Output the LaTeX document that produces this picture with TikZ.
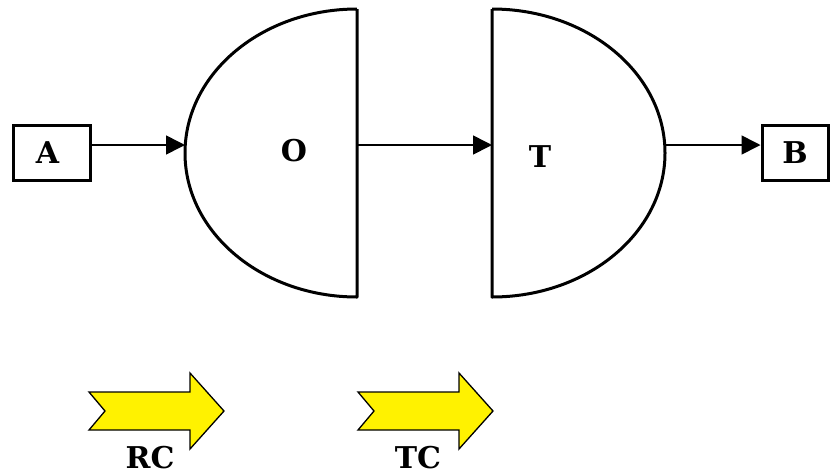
\documentclass[tikz,border=0pt]{standalone}
\usepackage{fontspec}
\setmainfont{DejaVu Serif}
\usetikzlibrary{arrows.meta}
\begin{document}
\begin{tikzpicture}[x=1pt,y=-1pt,
    box/.style={draw,line width=3pt,inner sep=0pt,minimum height=55pt},
    lbl/.style={font=\fontsize{30}{30}\selectfont\bfseries},
    flow/.style={line width=1.6pt,-{Triangle[length=19pt,width=19pt]}},
    half/.style={line width=3pt,line join=round},
    fat/.style={fill=yellow,draw=black,line width=1.3pt,line join=miter},
    fatarrow/.pic={\path[fat] (0,19) -- (101,19) -- (101,0) -- (135,38)
      -- (101,76) -- (101,57) -- (0,57) -- (16,38) -- cycle;}]
  \useasboundingbox (0,0) rectangle (830,475);
  % end boxes
  \node[box,lbl,minimum width=77pt,text width=73pt,align=center] (A) at (51.5,153) {\hspace*{-8pt}A};
  \node[box,lbl,minimum width=66pt] (B) at (795,153) {B};
  % half discs
  \draw[half] (357,9) -- (357,297)
    arc[start angle=90,end angle=270,x radius=172,y radius=144];
  \draw[half] (492,9) -- (492,297)
    arc[start angle=90,end angle=-90,x radius=173,y radius=144];
  \node[lbl] (O) at (294,151) {O};
  \node[lbl] (T) at (540,157) {T};
  \coordinate (O-in) at (185,145);
  \coordinate (O-out) at (357,145);
  \coordinate (T-in) at (492,145);
  \coordinate (T-out) at (665,145);
  % connectors
  \draw[flow] ([yshift=8pt]A.east) -- (O-in);
  \draw[flow] (O-out) -- (T-in);
  \draw[flow] (T-out) -- ([yshift=8pt]B.west);
  % yellow arrows
  \pic at (89,373) {fatarrow};
  \pic at (358,373) {fatarrow};
  \node[lbl] (RC) at (150,458) {RC};
  \node[lbl] (TC) at (418,458) {TC};
\end{tikzpicture}
\end{document}
